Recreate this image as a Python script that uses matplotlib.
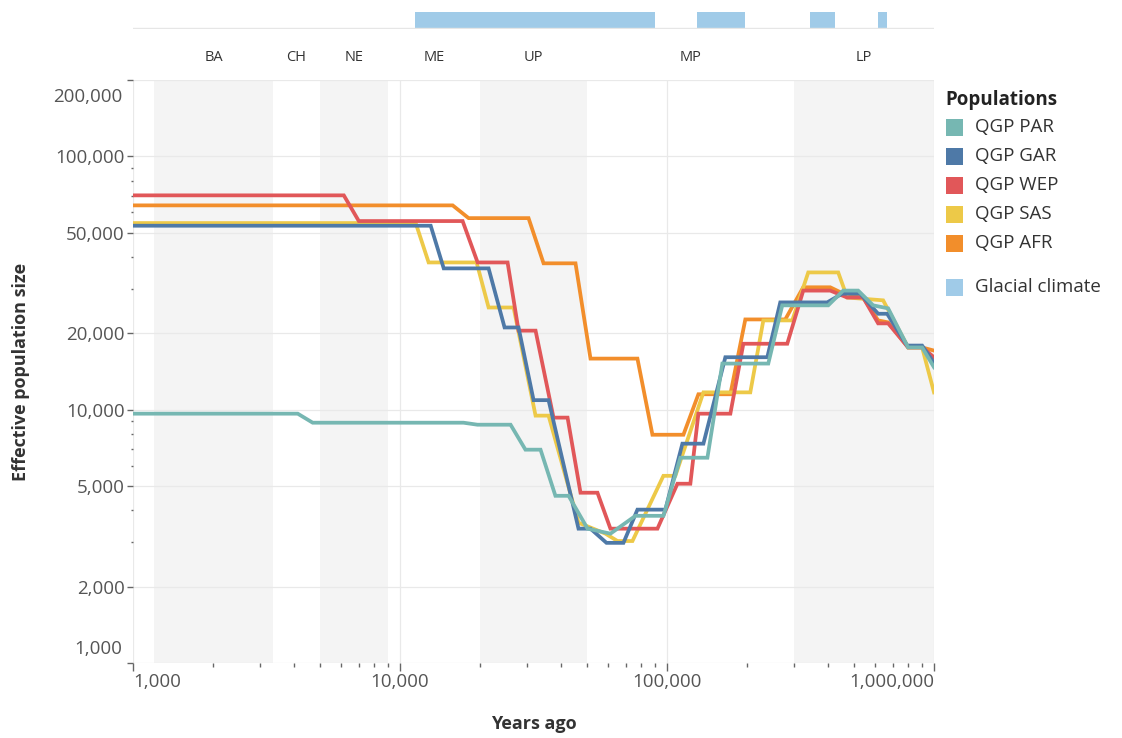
import numpy as np
import matplotlib.pyplot as plt
from matplotlib.patches import Rectangle
from matplotlib.ticker import FixedLocator, FuncFormatter, NullFormatter

plt.rcParams['font.family'] = ['Open Sans', 'DejaVu Sans']

# archaeological periods (years ago) and which ones get a grey band
period_names = ['BA', 'CH', 'NE', 'ME', 'UP', 'MP', 'LP']
period_start = [1200, 3350, 5000, 9000, 20000, 50000, 300000]
period_end = [3350, 5000, 9000, 20000, 50000, 300000, 1000000]
period_shaded = [True, False, True, False, True, False, True]

# glacial climate intervals (years ago)
glacial_start = [11400, 130000, 344000, 615000]
glacial_end = [90500, 196000, 426000, 665000]

# effective population size curves
par_years = [1000, 4140, 4710, 17300, 19500, 25950, 29500, 33600, 38200, 42800, 50400, 61400, 76200,
             97000, 112200, 141700, 161200, 239500, 270200, 401700, 457100, 520000, 591600, 673400,
             800100, 902600, 1000000]
par_ne = [9640, 9640, 8880, 8880, 8720, 8720, 6950, 6950, 4570, 4570, 3390, 3240, 3810,
          3810, 6460, 6460, 15200, 15200, 25800, 25800, 29500, 29500, 25800, 25100,
          17600, 17600, 14700]

gar_years = [1000, 13030, 14580, 21470, 24640, 27800, 31640, 36010, 46620, 51700, 59340, 68690, 77500,
             98600, 114200, 136900, 165400, 237500, 265600, 398200, 453200, 529000, 617700, 667600,
             793200, 902600, 1000000]
gar_ne = [53200, 53200, 36100, 36100, 21100, 21100, 10900, 10900, 3390, 3390, 2980, 2980, 4030,
          4030, 7340, 7340, 16100, 16100, 26500, 26500, 28700, 28700, 23900, 23900,
          17900, 17900, 15300]

wep_years = [1000, 6160, 7010, 17160, 19530, 25290, 27800, 32190, 37580, 42420, 47430, 54900, 61400,
             92100, 109400, 122300, 131100, 172700, 193200, 282100, 323800, 408700, 473100, 542800,
             617700, 673400, 800100, 902600, 1000000]
wep_ne = [70100, 70100, 55500, 55500, 38100, 38100, 20500, 20500, 9300, 9300, 4700, 4700, 3390,
          3390, 5100, 5100, 9640, 9640, 18200, 18200, 29500, 29500, 27700, 27700,
          21900, 21900, 17600, 17600, 16100]

sas_years = [1000, 11450, 12800, 19360, 21470, 26630, 32190, 36010, 46620, 58830, 65230, 74240, 96950,
             107500, 136900, 205100, 229500, 294500, 338100, 437800, 473100, 645000, 800100, 902600,
             1000000]
sas_ne = [54500, 54500, 38100, 38100, 25300, 25300, 9470, 9470, 3580, 3240, 3030, 3030, 5480,
          5480, 11700, 11700, 22500, 22500, 34800, 34800, 27700, 27000, 17600, 17600,
          11700]

afr_years = [1000, 15750, 18070, 30300, 34490, 45430, 51700, 77500, 88200, 115200, 131100, 172700,
             196500, 277300, 323800, 408700, 473100, 542800, 617700, 673400, 800100, 902600, 1000000]
afr_ne = [64000, 64000, 57000, 57000, 37800, 37800, 15900, 15900, 7960, 7960, 11500, 11500,
          22700, 22700, 30400, 30400, 28200, 27700, 22500, 22100, 17600, 17600, 17100]

series_names = ['QGP PAR', 'QGP GAR', 'QGP WEP', 'QGP SAS', 'QGP AFR']
series_years = [par_years, gar_years, wep_years, sas_years, afr_years]
series_ne = [par_ne, gar_ne, wep_ne, sas_ne, afr_ne]
series_colors = ['#76b7b2', '#4e79a7', '#e15759', '#edc948', '#f28e2b']
glacial_color = '#a0cbe8'

W, H = 1122, 738
fig = plt.figure(figsize=(W / 100, H / 100), dpi=100)
ax = fig.add_axes([133 / W, 1 - 663 / H, 801 / W, 583 / H])

# period bands and labels
for name, lo, hi, shaded in zip(period_names, period_start, period_end, period_shaded):
    if shaded:
        ax.axvspan(lo, hi, color='#f4f4f4', lw=0, zorder=0)
    ax.text(np.sqrt(lo * hi), 1.039, name, transform=ax.get_xaxis_transform(),
            ha='center', va='center', fontsize=10.5, color='#333333')

# curves, PAR drawn last so it sits on top
for name, yrs, ne, col in reversed(list(zip(series_names, series_years, series_ne, series_colors))):
    ax.plot(yrs, ne, color=col, lw=2.7, solid_joinstyle='miter', zorder=3)

ax.set_xscale('log')
ax.set_yscale('log')
ax.set_xlim(1000, 1000000)
ax.set_ylim(1000, 200000)

y_major = [1000, 2000, 5000, 10000, 20000, 50000, 100000, 200000]
y_minor = [3000, 4000, 6000, 7000, 8000, 9000, 30000, 40000, 60000, 70000, 80000, 90000]
ax.yaxis.set_major_locator(FixedLocator(y_major))
ax.yaxis.set_minor_locator(FixedLocator(y_minor))
ax.yaxis.set_major_formatter(FuncFormatter(lambda v, p: '' if v in (1000, 200000) else f'{int(v):,}'))
ax.yaxis.set_minor_formatter(NullFormatter())
ax.xaxis.set_major_locator(FixedLocator([1000, 10000, 100000, 1000000]))
ax.xaxis.set_major_formatter(FuncFormatter(lambda v, p: f'{int(v):,}'))
ax.xaxis.set_minor_formatter(NullFormatter())

# edge labels sit inside the axis range, as in the original
ax.annotate('200,000', xy=(0, 200000), xycoords=('axes fraction', 'data'), xytext=(-7.5, -12),
            textcoords='offset points', ha='right', va='center', fontsize=13.5, color='#555555')
ax.annotate('1,000', xy=(0, 1000), xycoords=('axes fraction', 'data'), xytext=(-7.5, 10),
            textcoords='offset points', ha='right', va='center', fontsize=13.5, color='#555555')

ax.tick_params(axis='y', which='major', length=4, width=1, color='#666666', labelsize=13.5,
               labelcolor='#555555', pad=2)
ax.tick_params(axis='y', which='minor', length=1.5, width=1, color='#666666')
ax.tick_params(axis='x', which='major', length=6, width=1, color='#666666', labelsize=13.5,
               labelcolor='#555555', pad=1)
ax.tick_params(axis='x', which='minor', length=3, width=1, color='#666666')

xlabels = ax.get_xticklabels()
xlabels[0].set_horizontalalignment('left')
xlabels[-1].set_horizontalalignment('right')

ax.grid(True, which='major', color='#e9e9e9', lw=0.9, zorder=1)
ax.set_axisbelow(True)
for s in ax.spines.values():
    s.set_visible(False)

ax.set_xlabel('Years ago', fontsize=13, fontweight='bold', color='#333333')
ax.set_ylabel('Effective population size', fontsize=13, fontweight='bold', color='#333333')
ax.xaxis.set_label_coords(0.5, -0.089)
ax.yaxis.set_label_coords(-0.128, 0.5)

# glacial climate strip on top
gax = fig.add_axes([133 / W, 1 - 29 / H, 801 / W, 17 / H])
gax.set_xscale('log')
gax.set_xlim(1000, 1000000)
gax.set_ylim(0, 1)
for lo, hi in zip(glacial_start, glacial_end):
    gax.axvspan(lo, hi, ymin=0.06, ymax=1, color=glacial_color, lw=0)
gax.axhline(0.03, color='#e6e6e6', lw=1)
gax.axis('off')

# legend
fig.text(945 / W, 1 - 100 / H, 'Populations', fontsize=13.5, fontweight='bold', color='#222222',
         ha='left', va='center')
legend_names = series_names + ['Glacial climate']
legend_colors = series_colors + [glacial_color]
legend_y = [127, 156, 185, 214, 243, 287]
for name, col, yy in zip(legend_names, legend_colors, legend_y):
    fig.add_artist(Rectangle((946 / W, 1 - (yy + 8.5) / H), 17 / W, 17 / H,
                             transform=fig.transFigure, color=col, lw=0))
    fig.text(975 / W, 1 - yy / H, name, fontsize=13.5, color='#333333', ha='left', va='center')

fig.savefig('out.png', dpi=100)
